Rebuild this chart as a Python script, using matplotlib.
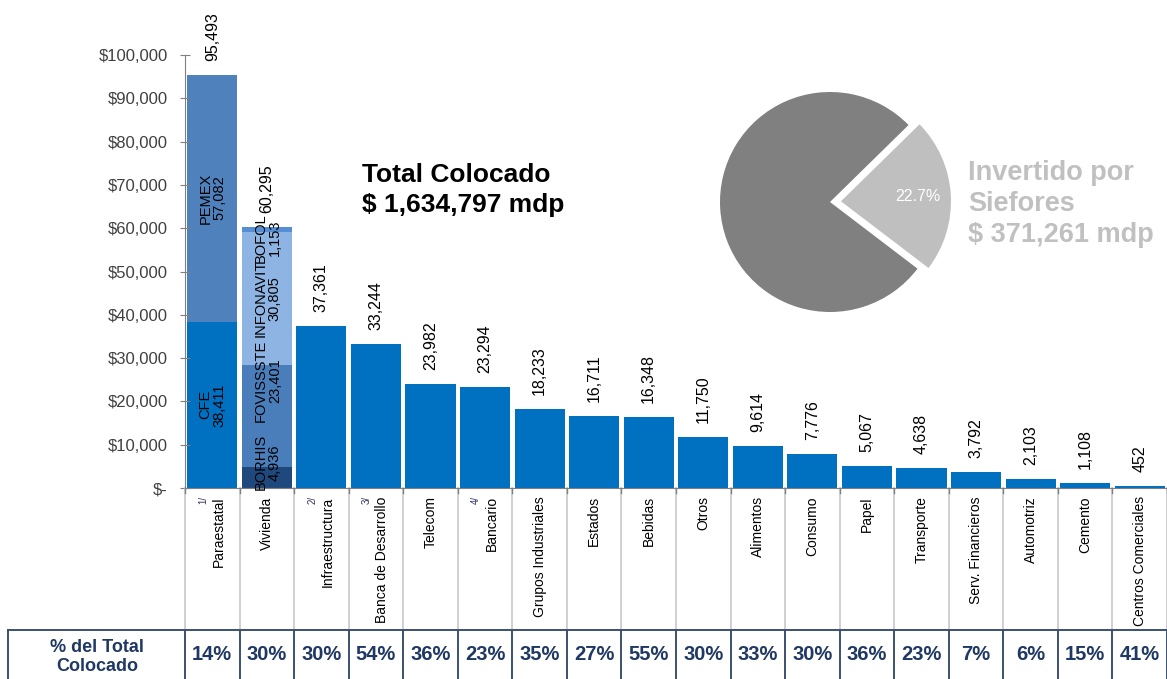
import matplotlib
matplotlib.use("Agg")
import matplotlib.pyplot as plt
from matplotlib.transforms import blended_transform_factory
from matplotlib.ticker import FuncFormatter

plt.rcParams['font.family'] = ['Liberation Sans', 'DejaVu Sans']

# ---------------- data ----------------
categories = ["Paraestatal", "Vivienda", "Infraestructura", "Banca de Desarrollo", "Telecom",
              "Bancario", "Grupos Industriales", "Estados", "Bebidas", "Otros", "Alimentos",
              "Consumo", "Papel", "Transporte", "Serv. Financieros", "Automotriz", "Cemento",
              "Centros Comerciales"]
footnotes = ["1/", "", "2/", "3/", "", "4/", "", "", "", "", "", "", "", "", "", "", "", ""]
totals = [95493, 60295, 37361, 33244, 23982, 23294, 18233, 16711, 16348, 11750, 9614,
          7776, 5067, 4638, 3792, 2103, 1108, 452]
pct_colocado = ["14%", "30%", "30%", "54%", "36%", "23%", "35%", "27%", "55%", "30%", "33%",
                "30%", "36%", "23%", "7%", "6%", "15%", "41%"]

para_names = ["CFE", "PEMEX"]
para_values = [38411, 57082]
viv_names = ["BORHIS", "FOVISSSTE", "INFONAVIT", "BOFOL"]
viv_values = [4936, 23401, 30805, 1153]

pie_values = [22.7, 77.3]
total_colocado = "Total Colocado\n$ 1,634,797 mdp"
siefores_text = "Invertido por\nSiefores\n$ 371,261 mdp"

# ---------------- styles ----------------
W, H = 1167, 679
main_blue = "#0070C0"
para_colors = ["#0070C0", "#4F81BD"]
viv_colors = ["#1F497D", "#4A7EBB", "#8DB4E2", "#558ED5"]
viv_label_frac = [1.2, 0.85, 0.5, -1.2]
navy = "#1F3864"
border = "#3B5073"

fig = plt.figure(figsize=(W / 100, H / 100), dpi=100)
ax_bottom_px, ax_top_px, ax_left_px = 488, 55, 185
ax = fig.add_axes([ax_left_px / W, (H - ax_bottom_px) / H, (W - ax_left_px) / W,
                   (ax_bottom_px - ax_top_px) / H])
n = len(categories)
bw = 0.92

# regular bars (first two are stacked)
for i in range(2, n):
    ax.bar(i, totals[i], width=bw, color=main_blue, linewidth=0)

# stacked Paraestatal
bottom = 0
for name, v, c in zip(para_names, para_values, para_colors):
    ax.bar(0, v, bottom=bottom, width=bw, color=c, linewidth=0)
    ax.text(0, bottom + v / 2, f"{name}\n{v:,}", rotation=90, ha='center', va='center',
            fontsize=10.5, color='black', linespacing=1.0)
    bottom += v

# stacked Vivienda
bottom = 0
for name, v, c, fr in zip(viv_names, viv_values, viv_colors, viv_label_frac):
    ax.bar(1, v, bottom=bottom, width=bw, color=c, linewidth=0)
    ax.text(1.02, bottom + v * fr, f"{name}\n{v:,}", rotation=90, ha='center', va='center',
            fontsize=10.5, color='black', linespacing=1.0, clip_on=False)
    bottom += v

# total labels
for i in range(n):
    ax.annotate(f"{totals[i]:,}", (i, totals[i]), xytext=(0, 10), textcoords='offset points',
                rotation=90, ha='left', va='center', rotation_mode='anchor',
                fontsize=11.5, color='black', annotation_clip=False)

ax.set_xlim(-0.5, n - 0.5)
ax.set_ylim(0, 100000)
ax.set_yticks(range(0, 100001, 10000))
ax.yaxis.set_major_formatter(FuncFormatter(lambda v, p: "$-" if v == 0 else f"${int(v):,}"))
ax.tick_params(axis='y', direction='inout', length=7, color='#808080', labelsize=12,
               labelcolor='#404040', pad=9)
ax.set_xticks([])
for s in ['top', 'right']:
    ax.spines[s].set_visible(False)
for s in ['left', 'bottom']:
    ax.spines[s].set_color('#808080')

# x labels
for i in range(n):
    if footnotes[i]:
        ax.annotate(categories[i], (i + 0.12, 0), xytext=(0, -6), textcoords='offset points',
                    rotation=90, ha='right', va='center', rotation_mode='anchor',
                    fontsize=10, color='black', annotation_clip=False)
        ax.annotate(footnotes[i], (i - 0.17, 0), xytext=(0, -6), textcoords='offset points',
                    rotation=90, ha='right', va='center', rotation_mode='anchor',
                    fontsize=7, color='#333366', annotation_clip=False)
    else:
        ax.annotate(categories[i], (i, 0), xytext=(0, -6), textcoords='offset points',
                    rotation=90, ha='right', va='center', rotation_mode='anchor',
                    fontsize=10, color='black', annotation_clip=False)

# separators and table
tr = blended_transform_factory(ax.transData, fig.transFigure)
y_axis_f = (H - ax_bottom_px) / H
y_table_f = (H - 630) / H
for k in range(n + 1):
    xb = k - 0.5
    ax.plot([xb, xb], [y_axis_f, y_table_f], transform=tr, color='#C8C8C8', lw=1.2,
            clip_on=False)
    ax.plot([xb, xb], [y_table_f, 0], transform=tr, color=border, lw=1.4, clip_on=False)
    ax.plot([xb, xb], [y_axis_f, y_axis_f - 5 / H], transform=tr, color='#808080', lw=1,
            clip_on=False)
fig.add_artist(plt.Line2D([8 / W, 1], [y_table_f, y_table_f], color=border, lw=1.4))
fig.add_artist(plt.Line2D([8 / W, 8 / W], [y_table_f, 0], color=border, lw=1.4))

y_txt = (H - 655) / H
for i in range(n):
    ax.text(i, y_txt, pct_colocado[i], transform=tr, ha='center', va='center',
            fontsize=14.5, fontweight='bold', color=navy)
fig.text(97 / W, (H - 657) / H, "% del Total\nColocado", ha='center', va='center',
         fontsize=13, fontweight='bold', color=navy, linespacing=1.1)

# Total text
fig.text(362 / W, 1 - 163 / H, total_colocado, ha='left', va='top', fontsize=19,
         fontweight='bold', color='black', linespacing=1.3)

# pie
cx, cy, r = 830, 202, 110
axp = fig.add_axes([(cx - r) / W, (H - cy - r) / H, 2 * r / W, 2 * r / H])
wedges, texts, autotexts = axp.pie(
    pie_values, colors=["#BFBFBF", "#808080"], explode=[0.1, 0], startangle=-37.3,
    radius=1, autopct=lambda p: f"{p:.1f}%" if p < 50 else "", pctdistance=0.7,
    wedgeprops=dict(linewidth=0), textprops=dict(color='white', fontsize=11.5))
for w in wedges:
    w.set_clip_on(False)
axp.set_xlim(-1, 1)
axp.set_ylim(-1, 1)
axp.set_aspect('equal')
axp.axis('off')

fig.text(968 / W, 1 - 160 / H, siefores_text, ha='left', va='top', fontsize=19.5,
         fontweight='bold', color='#C0C0C0', linespacing=1.25)

fig.savefig("out.png", dpi=100)
